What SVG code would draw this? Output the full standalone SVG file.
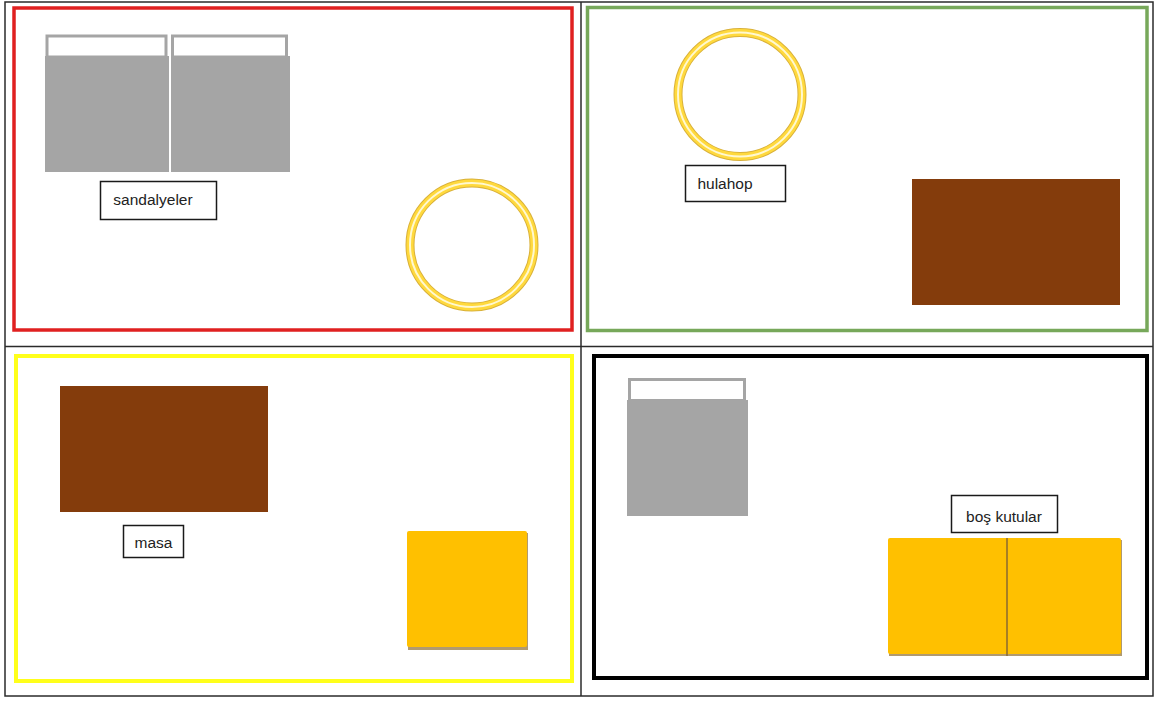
<svg xmlns="http://www.w3.org/2000/svg" width="1159" height="702" viewBox="0 0 1159 702">
<style>
.grid{fill:none;stroke:#2b2b2b;stroke-width:1.5}
.chairframe{fill:#ffffff;stroke:#a5a5a5;stroke-width:3}
.chairbody{fill:#a5a5a5}
.brown{fill:#843c0c}
.box{fill:#ffc000}
.lbl{fill:#ffffff;stroke:#1a1a1a;stroke-width:1.5}
.txt{font-family:"Liberation Sans",Arial,sans-serif;font-size:15.5px;fill:#222;text-anchor:middle}
.ring1{fill:none;stroke:#d9b13a;stroke-width:9}
.ring2{fill:none;stroke:#ffd93d;stroke-width:7}
.ring3{fill:none;stroke:#fff8d0;stroke-width:2}
</style>
<rect width="1159" height="702" fill="#ffffff"/>
<g id="table">
<rect class="grid" x="5" y="2" width="1148" height="694"/>
<line class="grid" x1="581" y1="2" x2="581" y2="696"/>
<line class="grid" x1="5" y1="346.5" x2="1153" y2="346.5"/>
</g>
<g id="frames">
<rect x="14" y="8" width="558" height="322" fill="none" stroke="#e02020" stroke-width="3.5"/>
<rect x="587.5" y="7.5" width="559.5" height="323" fill="none" stroke="#77a85a" stroke-width="3.5"/>
<rect x="16" y="356" width="556" height="325" fill="none" stroke="#ffff1a" stroke-width="4"/>
<rect x="594" y="356" width="553" height="322" fill="none" stroke="#000000" stroke-width="4"/>
</g>
<g id="chair1">
<rect class="chairbody" x="45" y="56" width="124" height="116"/>
<rect class="chairframe" x="47" y="36" width="119" height="21"/>
</g>
<g id="chair2">
<rect class="chairbody" x="171" y="56" width="119" height="116"/>
<rect class="chairframe" x="172.5" y="36" width="114" height="21"/>
</g>
<g id="label-sandalyeler">
<rect class="lbl" x="100.5" y="181.5" width="116" height="38"/>
<text class="txt" x="153" y="205">sandalyeler</text>
</g>
<g id="hoop1">
<circle class="ring1" cx="472" cy="245" r="62"/>
<circle class="ring2" cx="472" cy="245" r="62"/>
<circle class="ring3" cx="472" cy="245" r="62"/>
</g>
<g id="hoop2">
<circle class="ring1" cx="740" cy="94.5" r="62"/>
<circle class="ring2" cx="740" cy="94.5" r="62"/>
<circle class="ring3" cx="740" cy="94.5" r="62"/>
</g>
<g id="label-hulahop">
<rect class="lbl" x="685.5" y="165.5" width="100" height="36"/>
<text class="txt" x="725" y="189">hulahop</text>
</g>
<g id="table1">
<rect class="brown" x="912" y="179" width="208" height="126"/>
</g>
<g id="table2">
<rect class="brown" x="60" y="386" width="208" height="126"/>
</g>
<g id="label-masa">
<rect class="lbl" x="123.5" y="525.5" width="60" height="32"/>
<text class="txt" x="153.5" y="548">masa</text>
</g>
<g id="box1">
<rect x="408" y="533" width="120" height="117" fill="#b09a70"/>
<rect class="box" x="407" y="531" width="120" height="116" rx="2"/>
</g>
<g id="chair3">
<rect class="chairbody" x="627" y="400" width="121" height="116"/>
<rect class="chairframe" x="629.5" y="379.5" width="115" height="21"/>
</g>
<g id="label-bos-kutular">
<rect class="lbl" x="951.5" y="495.5" width="106" height="37"/>
<text class="txt" x="1004" y="522">boş kutular</text>
</g>
<g id="boxes2">
<rect x="889" y="540" width="233" height="116" fill="#b09a70"/>
<rect class="box" x="888" y="538" width="233" height="116" rx="2"/>
<line x1="1007" y1="538" x2="1007" y2="656" stroke="#8a6a30" stroke-width="1.5"/>
</g>
</svg>
